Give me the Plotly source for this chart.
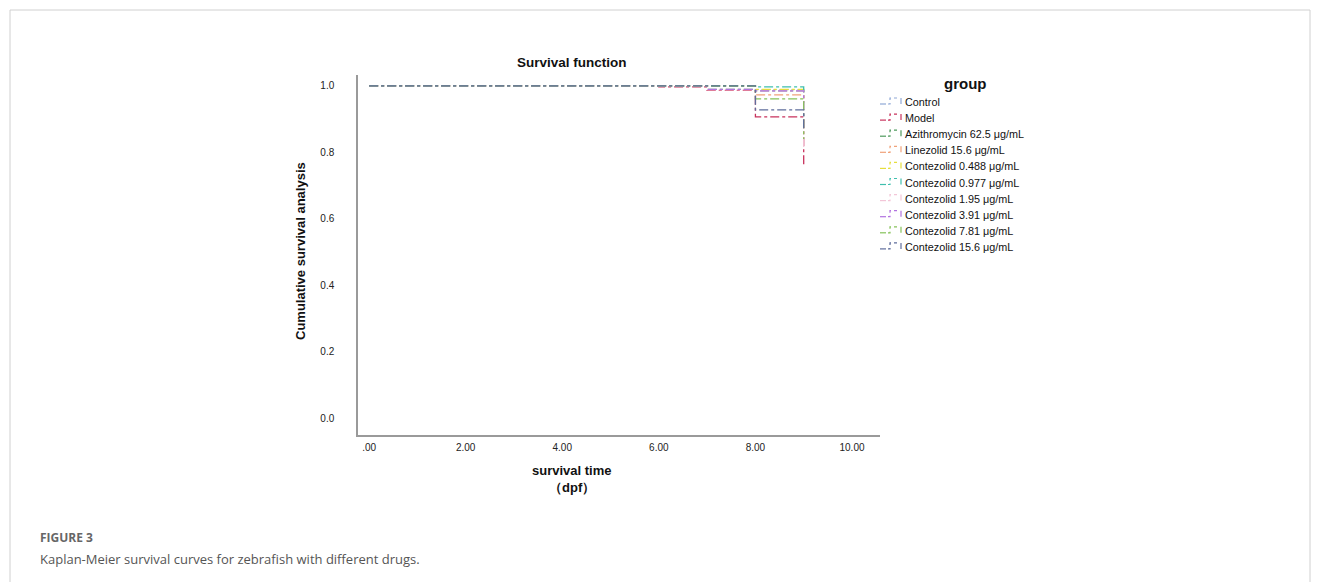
import plotly.graph_objects as go

groups = ["Control", "Model", "Azithromycin 62.5 μg/mL", "Linezolid 15.6 μg/mL",
          "Contezolid 0.488 μg/mL", "Contezolid 0.977 μg/mL", "Contezolid 1.95 μg/mL",
          "Contezolid 3.91 μg/mL", "Contezolid 7.81 μg/mL", "Contezolid 15.6 μg/mL"]
colors = ["#8fa8d6", "#c8325c", "#4f9a5e", "#f0a27a", "#e6de3c", "#3fbfae",
          "#f3c6d8", "#b273e0", "#86c25a", "#5f6d9c"]

# step times (dpf) and cumulative survival after each time
times = [
    [0, 8, 9, 9],
    [0, 6, 7, 8, 9, 9],
    [0, 7, 8, 9, 9],
    [0, 8, 9, 9],
    [0, 8, 9, 9],
    [0, 8, 9, 9],
    [0, 7, 8, 9, 9],
    [0, 7, 8, 9, 9],
    [0, 8, 9, 9],
    [0, 8, 9, 9],
]
surv = [
    [1.0, 0.989, 0.978, 0.978],
    [1.0, 0.997, 0.987, 0.907, 0.763, 0.763],
    [1.0, 0.990, 0.985, 0.950, 0.950],
    [1.0, 0.973, 0.950, 0.950],
    [1.0, 0.990, 0.960, 0.960],
    [1.0, 0.997, 0.980, 0.980],
    [1.0, 0.988, 0.985, 0.810, 0.810],
    [1.0, 0.990, 0.985, 0.900, 0.900],
    [1.0, 0.961, 0.840, 0.840],
    [1.0, 0.928, 0.870, 0.870],
]

x_ticks = [0, 2, 4, 6, 8, 10]
x_ticktext = [".00", "2.00", "4.00", "6.00", "8.00", "10.00"]
y_ticks = [0.0, 0.2, 0.4, 0.6, 0.8, 1.0]
y_ticktext = ["0.0", "0.2", "0.4", "0.6", "0.8", "1.0"]

# plot area in page pixels
L, R, T, B = 358, 880, 75, 435
W, H = R - L, B - T


def px(x):
    return (x - L) / W


def py(y):
    return (B - y) / H


fig = go.Figure()
for g, c, t, s in zip(groups, colors, times, surv):
    fig.add_trace(go.Scatter(
        x=t, y=s, mode="lines", name=g, line_shape="hv",
        line=dict(color=c, width=1.3, dash="dashdot"),
    ))

FONT = "Liberation Sans, Arial"
axis_font = dict(family=FONT, size=10, color="#222")
fig.update_layout(
    width=1320, height=582,
    margin=dict(l=L, r=1320 - R, t=T, b=582 - B),
    paper_bgcolor="white", plot_bgcolor="white",
    font=dict(family=FONT, color="#111"),
    xaxis=dict(range=[-0.23, 10.58], tickvals=x_ticks, ticktext=x_ticktext,
               showgrid=False, zeroline=False, showline=True, linecolor="#9a9a9a",
               linewidth=1.5, ticks="outside", ticklen=2, tickcolor="rgba(0,0,0,0)",
               tickfont=axis_font),
    yaxis=dict(range=[-0.051, 1.033], tickvals=y_ticks, ticktext=y_ticktext,
               showgrid=False, zeroline=False, showline=True, linecolor="#9a9a9a",
               linewidth=1.5, ticks="outside", ticklen=20, tickcolor="rgba(0,0,0,0)",
               tickfont=axis_font),
    showlegend=False,
)


def ann(text, x, y, size, color="#111", family=FONT, xanchor="center", angle=0):
    fig.add_annotation(text=text, xref="paper", yref="paper", x=px(x), y=py(y),
                       xanchor=xanchor, yanchor="middle", showarrow=False, textangle=angle,
                       font=dict(family=family, size=size, color=color))


ann("<b>Survival function</b>", 572, 63, 13.5)
ann("<b>survival time</b>", 572, 470, 13)
ann("<b>（dpf）</b>", 572, 487, 13)
ann("<b>Cumulative survival analysis</b>", 300, 251, 13, angle=-90)
ann("<b>FIGURE 3</b>", 38, 537, 12, color="#666", family="Open Sans", xanchor="left")
ann("Kaplan-Meier survival curves for zebrafish with different drugs.", 38, 559, 13,
    color="#555", family="Open Sans", xanchor="left")

# legend (manual, SPSS style)
ann("<b>group</b>", 965, 83, 15)
for i, (g, c) in enumerate(zip(groups, colors)):
    yc = 102 + i * 16.1
    ann(g, 903, yc, 10.8, xanchor="left")
    fig.add_shape(type="line", xref="paper", yref="paper",
                  x0=px(880), x1=px(886), y0=py(yc + 2), y1=py(yc + 2),
                  line=dict(color=c, width=1.2, dash="dash"))
    path = (f"M {px(888)},{py(yc + 2)} L {px(890)},{py(yc + 2)} "
            f"L {px(890)},{py(yc - 4)} L {px(897)},{py(yc - 4)}")
    fig.add_shape(type="path", xref="paper", yref="paper", path=path,
                  line=dict(color=c, width=1.2, dash="dot"))
    fig.add_shape(type="line", xref="paper", yref="paper",
                  x0=px(901), x1=px(901), y0=py(yc - 4), y1=py(yc + 2),
                  line=dict(color=c, width=1.2))

fig.add_shape(type="rect", xref="paper", yref="paper",
              x0=px(10), x1=px(1310), y0=py(600), y1=py(10),
              line=dict(color="#d0d0d0", width=1), fillcolor="rgba(0,0,0,0)", layer="below")

fig.write_html("out.html", config={"displayModeBar": False},
               post_script="document.body.style.margin='0';document.body.style.overflow='hidden';")
